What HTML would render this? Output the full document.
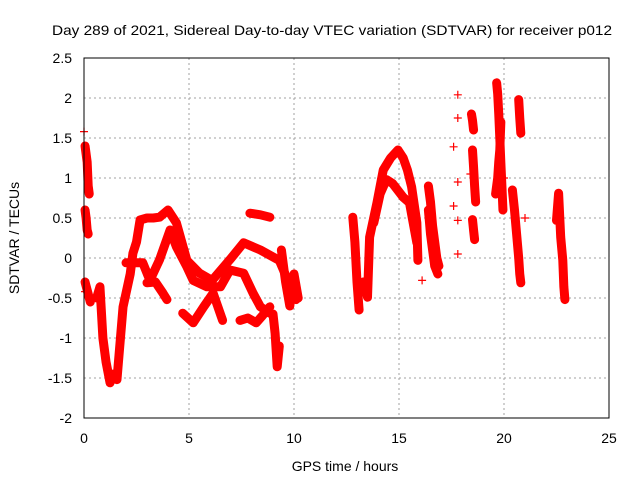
<!DOCTYPE html>
<html><head><meta charset="utf-8"><style>
body{margin:0;background:#fff}
svg{display:block;font-family:"Liberation Sans",sans-serif}
</style></head><body>
<svg id="chart" width="640" height="480" xmlns="http://www.w3.org/2000/svg">
<rect width="640" height="480" fill="#fff"/>
<text x="332" y="35" font-size="14" text-anchor="middle" textLength="560" lengthAdjust="spacingAndGlyphs">Day 289 of 2021, Sidereal Day-to-day VTEC variation (SDTVAR) for receiver p012</text>
<g id="grid"></g>
<g id="axes"></g>
<g id="marks"></g>
<rect x="84" y="58" width="525" height="360" fill="none" stroke="#000" stroke-width="1"/>
<text x="345" y="471" font-size="14" text-anchor="middle">GPS time / hours</text>
<text transform="translate(19,238) rotate(-90)" font-size="14" text-anchor="middle">SDTVAR / TECUs</text>
</svg>
<script>
const xTicks = [0,5,10,15,20,25];
const yTicks = [-2,-1.5,-1,-0.5,0,0.5,1,1.5,2,2.5];
const yTickLabels = ["-2","-1.5","-1","-0.5","0","0.5","1","1.5","2","2.5"];
const trackTimes = [
 [0.05,0.1,0.15,0.2,0.25],
 [0.05,0.1,0.15,0.2],
 [0.05,0.1,0.15,0.2,0.3],
 [0.6,0.76,0.9,1.05,1.24,1.4,1.57,1.86,2.2,2.33,2.5,2.67,3.0,3.3,3.6,4.0,4.4,4.9,5.5,6.1,6.95,7.6,8.4,9.3,10.1],
 [2.0,2.8,3.14,3.6,4.1,4.4,4.9,5.2,5.85,6.5,6.95,7.6,8.05,8.4,8.85],
 [3.0,3.4,3.76,3.95],
 [4.7,5.2,5.7,6.15,6.6],
 [7.43,7.8,8.2,8.5,8.85],
 [7.9,8.4,8.85],
 [9.0,9.1,9.2,9.3],
 [9.4,9.6,9.8,10.0,10.2],
 [12.8,12.9,13.0,13.1],
 [13.3,13.5,13.6,13.95,14.25,14.6,14.95,15.2,15.4,15.6,15.85,15.9],
 [13.8,14.1,14.4,14.7,15.2,15.5,15.85],
 [16.4,16.5,16.6,16.7,16.8,16.9],
 [16.4,16.5,16.6,16.7,16.85],
 [18.45,18.5,18.55],
 [18.5,18.55,18.6,18.65],
 [18.5,18.55,18.6],
 [19.65,19.7,19.75,19.8,19.85,19.9,19.95],
 [19.6,19.7,19.75,19.8,19.85],
 [20.7,20.75,20.8],
 [20.4,20.5,20.6,20.7,20.75,20.8],
 [22.5,22.6,22.7,22.8,22.85,22.9]
];
const trackValues = [
 [1.4,1.3,1.2,0.9,0.8],
 [0.6,0.5,0.35,0.3],
 [-0.3,-0.35,-0.4,-0.45,-0.55],
 [-0.5,-0.36,-1.0,-1.3,-1.56,-1.45,-1.52,-0.61,-0.2,0.06,0.2,0.475,0.5,0.5,0.51,0.6,0.44,-0.03,-0.19,-0.28,-0.02,0.19,0.1,-0.03,-0.52],
 [-0.06,-0.06,-0.28,-0.02,0.35,0.14,-0.11,-0.28,-0.36,-0.36,-0.15,-0.19,-0.44,-0.61,-0.69],
 [-0.31,-0.3,-0.44,-0.52],
 [-0.69,-0.81,-0.61,-0.44,-0.78],
 [-0.78,-0.75,-0.81,-0.72,-0.61],
 [0.56,0.54,0.51],
 [-0.7,-0.94,-1.36,-1.1],
 [0.1,-0.3,-0.6,-0.2,-0.5],
 [0.51,0.2,-0.3,-0.65],
 [-0.3,-0.49,0.26,0.69,1.1,1.25,1.35,1.25,1.1,0.89,0.44,-0.03],
 [0.44,0.8,0.98,0.93,0.76,0.69,0.19],
 [0.9,0.7,0.4,0.2,0.0,-0.1],
 [0.6,0.3,0.1,-0.1,-0.2],
 [1.8,1.72,1.6],
 [1.35,1.14,0.9,0.7],
 [0.48,0.35,0.23],
 [2.19,2.05,1.8,1.5,1.19,0.9,0.6],
 [0.8,1.0,1.2,1.35,1.7],
 [1.98,1.75,1.56],
 [0.85,0.6,0.3,0.0,-0.2,-0.31],
 [0.47,0.81,0.26,-0.03,-0.36,-0.52]
];
const singleTimes = [17.8,17.8,17.6,17.8,17.6,17.8,17.8,16.1,20.0,18.4,21.0,0.0,0.05];
const singleValues = [2.04,1.75,1.39,0.95,0.65,0.47,0.05,-0.28,1.0,1.05,0.5,1.58,-0.42];

const X0=84,X1=609,Y0=418,Y1=58;
const xScale=t=>X0+(t-0)/25*(X1-X0);
const yScale=v=>Y0-(v+2)/4.5*(Y0-Y1);
const NS="http://www.w3.org/2000/svg";
const grid=document.getElementById('grid'),axes=document.getElementById('axes'),marks=document.getElementById('marks');
function mk(tag,attrs,parent){const e=document.createElementNS(NS,tag);for(const k in attrs)e.setAttribute(k,attrs[k]);parent.appendChild(e);return e;}
xTicks.forEach((t,i)=>{
 const x=xScale(t);
 if(i>0&&i<xTicks.length-1){const g=mk('line',{x1:x,x2:x,y1:Y1,y2:Y0,stroke:'#a0a0a0','stroke-dasharray':'2,3'},grid);
 
 }
 const l=mk('text',{x:x,y:443,'font-size':14,'text-anchor':'middle'},axes);l.textContent=String(t);
 
 
});
yTicks.forEach((v,i)=>{
 const y=yScale(v);
 if(i>0&&i<yTicks.length-1){const g=mk('line',{x1:X0,x2:X1,y1:y,y2:y,stroke:'#a0a0a0','stroke-dasharray':'2,3'},grid);
 
 }
 const l=mk('text',{x:72,y:y+5,'font-size':14,'text-anchor':'end'},axes);l.textContent=yTickLabels[i];
 
 
});
function plus(x,y){
 const p=mk('path',{d:`M${x-4},${y}h8M${x},${y-4}v8`,stroke:'#ff0000','stroke-width':1.2,fill:'none'},marks);
 
 
}
trackTimes.forEach((ts,k)=>{
 const vs=trackValues[k];
 const pts=ts.map((t,i)=>xScale(t)+','+yScale(vs[i])).join(' ');
 const pl=mk('polyline',{points:pts,fill:'none',stroke:'#ff0000','stroke-width':9,'stroke-linejoin':'round','stroke-linecap':'round'},marks);
 
 
 ts.forEach((t,i)=>plus(xScale(t),yScale(vs[i])));
});
singleTimes.forEach((t,i)=>plus(xScale(t),yScale(singleValues[i])));
</script>
</body></html>
